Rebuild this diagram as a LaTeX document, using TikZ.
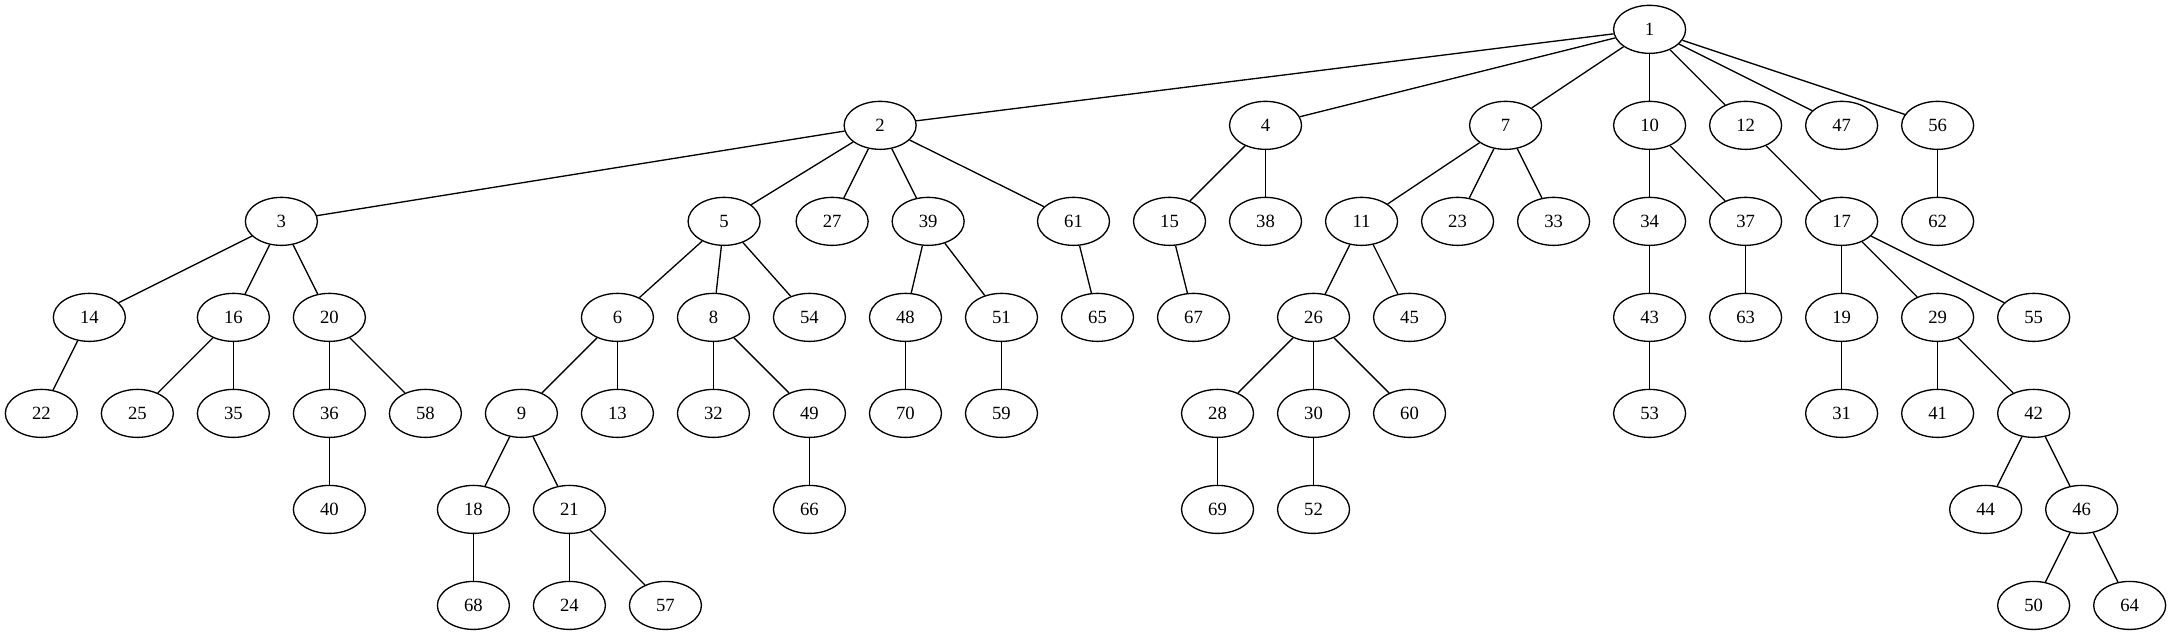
\documentclass[tikz,border=0pt]{standalone}
\usepackage{fontspec}
\setmainfont{Liberation Serif}
\usetikzlibrary{shapes.geometric}
\begin{document}
\begin{tikzpicture}[x=1pt,y=-1pt,
  gv/.style={ellipse,draw,line width=1pt,minimum width=54pt,minimum height=36pt,inner sep=0pt,font=\fontsize{14}{16}\selectfont},
  ed/.style={line width=1pt}]
\useasboundingbox (0,0) rectangle (1628,476);
\def\ra{22}\def\rb{94}\def\rc{166}\def\rd{238}\def\re{310}\def\rf{382}\def\rg{454}
% rank 0
\node[gv] (n1) at (1237,\ra) {1};
% rank 1
\foreach \n/\x in {2/660,4/949,7/1129,10/1237,12/1309,47/1381,56/1453}
  \node[gv] (n\n) at (\x,\rb) {\n};
% rank 2
\foreach \n/\x in {3/211,5/543,27/624,39/696,61/805,15/877,38/949,11/1021,23/1093,33/1165,34/1237,37/1309,17/1381,62/1453}
  \node[gv] (n\n) at (\x,\rc) {\n};
% rank 3
\foreach \n/\x in {14/67,16/175,20/247,6/463,8/535,54/607,48/679,51/751,65/823,67/895,26/985,45/1057,43/1237,63/1309,19/1381,29/1453,55/1525}
  \node[gv] (n\n) at (\x,\rd) {\n};
% rank 4
\foreach \n/\x in {22/31,25/103,35/175,36/247,58/319,9/391,13/463,32/535,49/607,70/679,59/751,28/913,30/985,60/1057,53/1237,31/1381,41/1453,42/1525}
  \node[gv] (n\n) at (\x,\re) {\n};
% rank 5
\foreach \n/\x in {40/247,18/355,21/427,66/607,69/913,52/985,44/1489,46/1561}
  \node[gv] (n\n) at (\x,\rf) {\n};
% rank 6
\foreach \n/\x in {68/355,24/427,57/499,50/1525,64/1597}
  \node[gv] (n\n) at (\x,\rg) {\n};
% edges
\foreach \a/\b in {1/2,1/4,1/7,1/10,1/12,1/47,1/56,
  2/3,2/5,2/27,2/39,2/61,4/15,4/38,7/11,7/23,7/33,10/34,10/37,12/17,56/62,
  3/14,3/16,3/20,5/6,5/8,5/54,39/48,39/51,61/65,15/67,11/26,11/45,34/43,37/63,17/19,17/29,17/55,
  14/22,16/25,16/35,20/36,20/58,6/9,6/13,8/32,8/49,48/70,51/59,26/28,26/30,26/60,43/53,19/31,29/41,29/42,
  36/40,9/18,9/21,49/66,28/69,30/52,42/44,42/46,
  18/68,21/24,21/57,46/50,46/64}
  \draw[ed] (n\a) -- (n\b);
\end{tikzpicture}
\end{document}
